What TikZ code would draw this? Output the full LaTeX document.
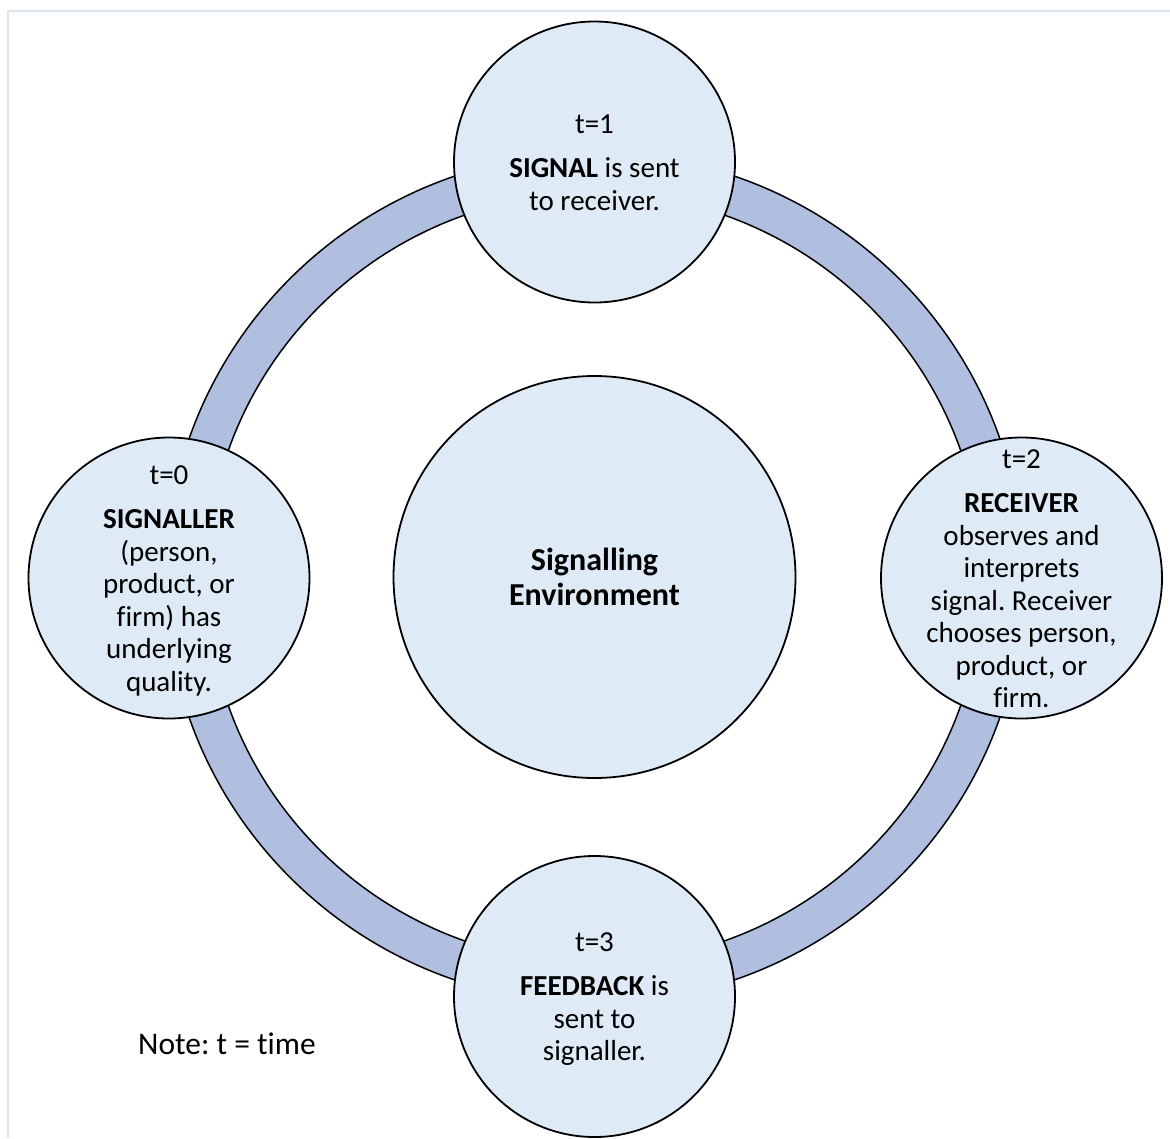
\documentclass[tikz,border=0pt]{standalone}
\usepackage{fontspec}
\setmainfont{Carlito}[Ligatures=NoCommon]
\frenchspacing
\definecolor{stagefill}{RGB}{222,234,246}
\definecolor{ringfill}{RGB}{176,190,224}
\definecolor{framecol}{RGB}{218,227,240}
\begin{document}
\begin{tikzpicture}[x=1pt,y=-1pt,
  stage/.style={circle,draw=black,line width=1.8pt,fill=stagefill,minimum size=281pt,inner sep=0pt},
  stagetext/.style={align=center,font=\fontsize{29}{32.5}\selectfont},
  ringedge/.style={draw=black,line width=1.5pt}]

  \useasboundingbox (0,0) rectangle (1170,1138);

  % page frame
  \coordinate (frameTR) at (1170,11);
  \coordinate (frameTL) at (8,11);
  \coordinate (frameBL) at (8,1138);
  \draw[framecol,line width=1.5pt] (frameTR) -- (frameTL) -- (frameBL);

  % ring
  \coordinate (hub) at (594.5,578);
  \fill[ringfill,even odd rule] (hub) ellipse[x radius=429,y radius=425]
                                 (hub) ellipse[x radius=388,y radius=385];
  \draw[ringedge] (hub) ellipse[x radius=429,y radius=425];
  \draw[ringedge] (hub) ellipse[x radius=388,y radius=385];

  % environment
  \node[stage,minimum size=402pt] (env) at (594.5,577) {};
  \node[align=center,font=\fontsize{32}{35}\selectfont\bfseries] (envtxt) at (env.center)
    {Signalling\\Environment};

  % stages
  \node[stage] (signaller) at (169,578) {};
  \node[stage] (signal) at (594.5,162) {};
  \node[stage] (receiver) at (1021.5,578) {};
  \node[stage] (feedback) at (594.5,996.5) {};

  \node[stagetext] (signallertxt) at ([yshift=-3]signaller.center)
    {t=0\\[11.5pt]\textbf{SIGNALLER}\\(person,\\product, or\\firm) has\\underlying\\quality.};
  \node[stagetext] (signaltxt) at ([yshift=-1]signal.center)
    {t=1\\[11.5pt]\textbf{SIGNAL} is sent\\to receiver.};
  \node[stagetext] (receivertxt) at ([yshift=-1]receiver.center)
    {t=2\\[11.5pt]\textbf{RECEIVER}\\observes and\\interprets\\signal. Receiver\\chooses person,\\product, or\\firm.};
  \node[stagetext] (feedbacktxt) at ([yshift=-3]feedback.center)
    {t=3\\[11.5pt]\textbf{FEEDBACK} is\\sent to\\signaller.};

  % note
  \node[anchor=base west,inner sep=0pt,font=\fontsize{31.5}{35}\selectfont] (note) at (138,1054)
    {Note: t = time};
\end{tikzpicture}
\end{document}
